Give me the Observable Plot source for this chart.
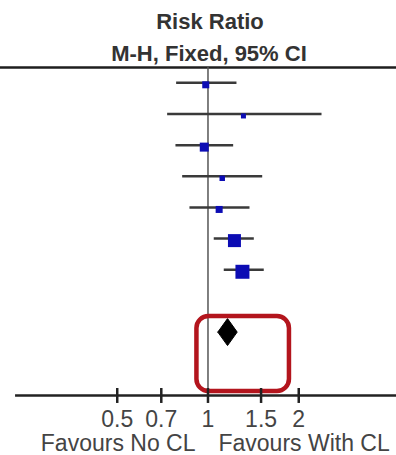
<!DOCTYPE html>
<html>
<head>
<meta charset="utf-8">
<script src="https://cdn.jsdelivr.net/npm/d3@7"></script>
<script src="https://cdn.jsdelivr.net/npm/@observablehq/plot@0.6"></script>
<style>
  html, body { margin: 0; padding: 0; background: #fff; }
</style>
</head>
<body>
<div id="chart"></div>
<script>
// ---- data ----
const studies   = ["Study 1", "Study 2", "Study 3", "Study 4", "Study 5", "Study 6", "Study 7"];
const riskRatio = [0.983, 1.311, 0.972, 1.115, 1.089, 1.224, 1.301];
const ciLower   = [0.784, 0.732, 0.780, 0.821, 0.868, 1.045, 1.128];
const ciUpper   = [1.243, 2.380, 1.212, 1.513, 1.373, 1.419, 1.531];
const weights   = [8.2, 4.2, 13.5, 5.0, 8.2, 28.2, 32.7]; // % weight
const pooled    = {rr: 1.161, lo: 1.078, hi: 1.250};
const tickValues = [0.5, 0.7, 1, 1.5, 2];
const tickLabels = ["0.5", "0.7", "1", "1.5", "2"];
const headerLines = ["Risk Ratio", "M-H, Fixed, 95% CI"];
const favourLabels = ["Favours No CL", "Favours With CL"];
const xDomain = [0.205, 4.22];
const axisExtent = [0.23, 4.22];
const highlight = {x1: 0.919, x2: 1.863, y1: 7.5, y2: 9.907}; // annotation box (x: ratio, y: rows)

// ---- layout in row units ----
const pooledRow = 8;
const rowHeader1 = -1.733, rowHeader2 = -0.70, rowTopLine = -0.491;
const rowAxis = 10.035, rowTickTop = 9.81, rowTickBottom = 10.29;
const rowTickLabel = 11.05, rowFavour = 11.83;
const diamondHalf = 0.433;

const rows = studies.map((s, i) => ({
  study: s, row: i, rr: riskRatio[i], lo: ciLower[i], hi: ciUpper[i], w: weights[i]
}));
const diamond = [
  {x: pooled.lo, y: pooledRow},
  {x: pooled.rr, y: pooledRow - diamondHalf},
  {x: pooled.hi, y: pooledRow},
  {x: pooled.rr, y: pooledRow + diamondHalf},
  {x: pooled.lo, y: pooledRow}
];

const font = "'Liberation Sans', Arial, Helvetica, sans-serif";

const chart = Plot.plot({
  width: 396,
  height: 455,
  marginLeft: 0, marginRight: 0, marginTop: 0, marginBottom: 0,
  style: {fontFamily: font, background: "#fff"},
  x: {type: "log", domain: xDomain, range: [0, 396], axis: null},
  y: {domain: [0, 8], range: [82.3, 331.6], axis: null},
  r: {type: "sqrt", domain: [0, 100], range: [0, 13.8]},
  marks: [
    // header
    Plot.text([headerLines[0]], {x: 1, y: rowHeader1, text: d => d, dx: 2, lineAnchor: "bottom",
      fontSize: 22, fontWeight: "bold", fill: "#333", fontFamily: font}),
    Plot.text([headerLines[1]], {x: 1, y: rowHeader2, text: d => d, dx: 1, lineAnchor: "bottom",
      fontSize: 22, fontWeight: "bold", fill: "#333", fontFamily: font}),
    Plot.ruleY([rowTopLine], {stroke: "#1e1e1e", strokeWidth: 2.5}),
    // null line
    Plot.ruleX([1], {y1: rowTopLine, y2: rowAxis, stroke: "#555", strokeWidth: 1.5}),
    // confidence intervals
    Plot.link(rows, {x1: "lo", x2: "hi", y1: "row", y2: "row", stroke: "#3a3a3a", strokeWidth: 2.5}),
    // study squares
    Plot.dot(rows, {x: "rr", y: "row", r: "w", symbol: "square", fill: "#0c0cb4", stroke: "none", dy: 2}),
    // pooled diamond
    Plot.line(diamond, {x: "x", y: "y", fill: "#000", stroke: "#000", strokeWidth: 1}),
    // highlight box
    Plot.rect([highlight], {x1: "x1", x2: "x2", y1: "y1", y2: "y2", rx: 12, ry: 12,
      fill: "none", stroke: "#b3151d", strokeWidth: 4.5}),
    // axis
    Plot.ruleY([rowAxis], {x1: axisExtent[0], x2: axisExtent[1], stroke: "#222", strokeWidth: 2.5}),
    Plot.ruleX(tickValues, {x: d => d, y1: rowTickTop, y2: rowTickBottom, stroke: "#222", strokeWidth: 2.5}),
    Plot.text(tickValues, {x: d => d, y: rowTickLabel, text: (d, i) => tickLabels[i], lineAnchor: "bottom",
      fontSize: 23, fill: "#444", fontFamily: font}),
    Plot.text([favourLabels[0]], {x: 1, y: rowFavour, text: d => d, dx: -12.5, textAnchor: "end",
      lineAnchor: "bottom", fontSize: 23, fill: "#444", fontFamily: font}),
    Plot.text([favourLabels[1]], {x: 1, y: rowFavour, text: d => d, dx: 10.5, textAnchor: "start",
      lineAnchor: "bottom", fontSize: 23, fill: "#444", fontFamily: font})
  ]
});
document.getElementById("chart").appendChild(chart);
</script>
</body>
</html>
